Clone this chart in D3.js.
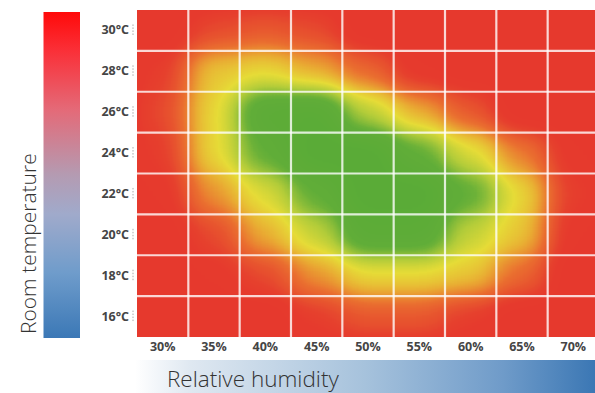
<!DOCTYPE html>
<html>
<head>
<meta charset="utf-8">
<script src="https://cdn.jsdelivr.net/npm/d3@7"></script>
<style>
  html, body { margin: 0; padding: 0; background: #fff; }
  svg { display: block; }
  .tick text { font-family: "Open Sans", sans-serif; font-weight: 700; font-size: 12.5px; fill: #454545; }
</style>
</head>
<body>
<script>
// humidity columns and temperature rows
const humidity = ['30%', '35%', '40%', '45%', '50%', '55%', '60%', '65%', '70%'];
const temps = ['30°C', '28°C', '26°C', '24°C', '22°C', '20°C', '18°C', '16°C'];

// comfort per cell, 0 = red (uncomfortable), 0.5 = yellow, 1 = green (comfortable)
const row30 = [0.00, 0.15, 0.20, 0.15, 0.00, 0.00, 0.00, 0.00, 0.00];
const row28 = [0.10, 0.45, 0.50, 0.40, 0.25, 0.05, 0.00, 0.00, 0.00];
const row26 = [0.15, 0.50, 0.90, 0.95, 0.62, 0.40, 0.20, 0.00, 0.00];
const row24 = [0.10, 0.50, 0.80, 1.00, 1.00, 0.80, 0.55, 0.30, 0.05];
const row22 = [0.05, 0.35, 0.55, 0.80, 1.00, 1.00, 0.80, 0.50, 0.10];
const row20 = [0.00, 0.15, 0.40, 0.60, 0.90, 0.90, 0.60, 0.45, 0.05];
const row18 = [0.00, 0.05, 0.15, 0.35, 0.50, 0.50, 0.45, 0.25, 0.00];
const row16 = [0.00, 0.00, 0.00, 0.10, 0.20, 0.20, 0.10, 0.00, 0.00];
const comfort = [row30, row28, row26, row24, row22, row20, row18, row16];

const w = 595, h = 393;
const plot = {left: 137, right: 599, top: 10, bottom: 337};

const svg = d3.select('body').append('svg')
  .attr('width', w)
  .attr('height', h);

const defs = svg.append('defs');

// colour ramp used after the blur: grey level -> red / orange / yellow / green
const ramp = d3.scaleLinear()
  .domain([0, 0.1, 0.28, 0.42, 0.52, 0.64, 0.78, 1])
  .range(['#e6392e', '#e63b2e', '#ea7030', '#e9b834', '#e6dc37', '#b2cc3a', '#62ae38', '#5aab37'])
  .interpolate(d3.interpolateRgb);
const steps = d3.range(0, 1.0001, 0.04);
const chan = (k) => steps.map(t => (d3.rgb(ramp(t))[k] / 255).toFixed(3)).join(' ');

const filter = defs.append('filter')
  .attr('id', 'heat')
  .attr('filterUnits', 'userSpaceOnUse')
  .attr('x', 80).attr('y', -60).attr('width', 600).attr('height', 480)
  .attr('color-interpolation-filters', 'sRGB');
filter.append('feGaussianBlur').attr('stdDeviation', '15 13');
const ct = filter.append('feComponentTransfer');
ct.append('feFuncR').attr('type', 'table').attr('tableValues', chan('r'));
ct.append('feFuncG').attr('type', 'table').attr('tableValues', chan('g'));
ct.append('feFuncB').attr('type', 'table').attr('tableValues', chan('b'));

defs.append('clipPath').attr('id', 'plotclip')
  .append('rect')
  .attr('x', plot.left).attr('y', plot.top)
  .attr('width', plot.right - plot.left).attr('height', plot.bottom - plot.top);

// temperature bar
const tGrad = defs.append('linearGradient').attr('id', 'tgrad')
  .attr('x1', 0).attr('y1', 0).attr('x2', 0).attr('y2', 1);
[[0, '#ff0a0a'], [0.12, '#fa3038'], [0.3, '#e46a78'], [0.5, '#b49bb2'], [0.62, '#a0aacb'], [0.8, '#6f9ccb'], [1, '#3b78b6']]
  .forEach(s => tGrad.append('stop').attr('offset', s[0]).attr('stop-color', s[1]));

// humidity bar
const hGrad = defs.append('linearGradient').attr('id', 'hgrad');
[[0, '#ffffff'], [0.12, '#dfe8f1'], [0.5, '#a6c2dc'], [0.8, '#6f9bc9'], [1, '#3b77b4']]
  .forEach(s => hGrad.append('stop').attr('offset', s[0]).attr('stop-color', s[1]));

const xScale = d3.scaleBand().domain(humidity).range([plot.left, plot.right]);
const yScale = d3.scaleBand().domain(temps).range([plot.top, plot.bottom]);
const grey = d3.scaleLinear().domain([0, 1]).range(['#000000', '#ffffff']);

const cells = [];
comfort.forEach((row, i) => row.forEach((v, j) => cells.push({t: temps[i], hum: humidity[j], v: v})));

const heat = svg.append('g')
  .attr('clip-path', 'url(#plotclip)')
  .append('g')
  .attr('filter', 'url(#heat)');

heat.append('rect')
  .attr('x', 80).attr('y', -60).attr('width', 600).attr('height', 480)
  .attr('fill', '#000');

heat.selectAll('rect.cell')
  .data(cells)
  .enter().append('rect')
  .attr('class', 'cell')
  .attr('x', d => xScale(d.hum) - 0.5)
  .attr('y', d => yScale(d.t) - 0.5)
  .attr('width', xScale.bandwidth() + 1)
  .attr('height', yScale.bandwidth() + 1)
  .attr('fill', d => grey(d.v));

// white grid
const grid = svg.append('g').attr('stroke', '#fff').attr('stroke-width', 2.2).attr('stroke-opacity', 0.8);
grid.selectAll('line.v')
  .data(humidity.slice(1))
  .enter().append('line')
  .attr('x1', d => xScale(d)).attr('x2', d => xScale(d))
  .attr('y1', plot.top).attr('y2', plot.bottom);
grid.selectAll('line.h')
  .data(temps.slice(1))
  .enter().append('line')
  .attr('y1', d => yScale(d)).attr('y2', d => yScale(d))
  .attr('x1', plot.left).attr('x2', plot.right);

// axes
const yAxis = svg.append('g')
  .attr('transform', 'translate(' + (plot.left - 4) + ',0)')
  .call(d3.axisLeft(yScale).tickSize(0).tickPadding(4));
yAxis.select('.domain').remove();
yAxis.selectAll('.tick').append('line')
  .attr('x1', 0).attr('x2', 0)
  .attr('y1', -6).attr('y2', 6)
  .attr('stroke', '#aaa')
  .attr('stroke-dasharray', '1.5,1.5');

const xAxis = svg.append('g')
  .attr('transform', 'translate(0,' + plot.bottom + ')')
  .call(d3.axisBottom(xScale).tickSize(0).tickPadding(5));
xAxis.select('.domain').remove();

// legend bars and titles
svg.append('rect')
  .attr('x', 43.5).attr('y', 12)
  .attr('width', 36.5).attr('height', 326)
  .attr('fill', 'url(#tgrad)');

svg.append('rect')
  .attr('x', 135).attr('y', 360)
  .attr('width', 460).attr('height', 33)
  .attr('fill', 'url(#hgrad)');

svg.append('text')
  .attr('transform', 'translate(36,334) rotate(-90)')
  .attr('font-family', '"Open Sans", sans-serif')
  .attr('font-weight', 300)
  .attr('font-size', 21)
  .attr('fill', '#333')
  .text('Room temperature');

svg.append('text')
  .attr('x', 167).attr('y', 387)
  .attr('font-family', '"Open Sans", sans-serif')
  .attr('font-weight', 300)
  .attr('font-size', 22.5)
  .attr('fill', '#333')
  .text('Relative humidity');
</script>
</body>
</html>
